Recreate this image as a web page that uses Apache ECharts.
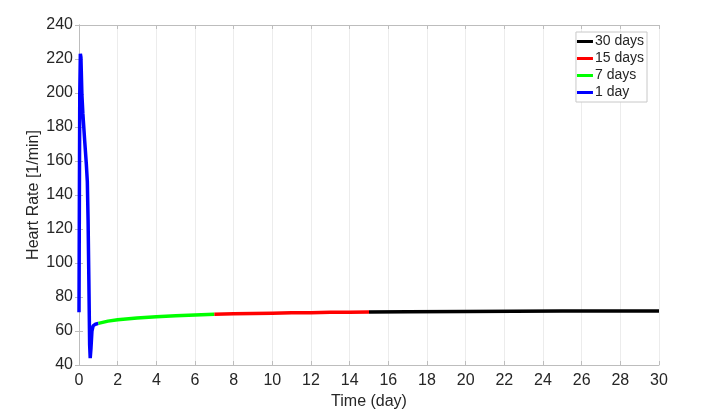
<!DOCTYPE html>
<html>
<head>
<meta charset="utf-8">
<script src="https://cdn.jsdelivr.net/npm/echarts@6/dist/echarts.min.js"></script>
<style>html,body{margin:0;padding:0;background:#fff}#c{width:717px;height:417px}</style>
</head>
<body>
<div id="c"></div>
<script>
const seriesNames = ['30 days', '15 days', '7 days', '1 day'];
const day1 = [[0,71],[0.02,140],[0.04,200],[0.07,223],[0.1,221],[0.15,199],[0.2,188],[0.3,171],[0.38,158],[0.43,148],[0.47,125],[0.51,90],[0.55,52],[0.58,44],[0.62,50],[0.67,60],[0.73,63],[0.85,64],[1.0,64.5]];
const day7 = [[1,64.5],[1.5,65.8],[2,66.6],[3,67.7],[4,68.4],[5,69],[6,69.4],[7,69.8]];
const day15 = [[7,69.8],[8,70.1],[9,70.3],[10,70.5],[11,70.7],[12,70.8],[13,71],[14,71.1],[15,71.2]];
const day30 = [[15,71.2],[17,71.35],[20,71.5],[25,71.7],[30,71.8]];
const xTicks = {min: 0, max: 30, interval: 2};
const yTicks = {min: 40, max: 240, interval: 20};

const font = "'Liberation Sans', Helvetica, Arial, sans-serif";
const txt = '#262626';
const axisCol = '#bdbdbd';
const chart = echarts.init(document.getElementById('c'), null, {renderer: 'canvas'});
function mk(name, data, color) {
  return {name, type: 'line', data, showSymbol: false, symbol: 'none',
    lineStyle: {width: 3.5, color}, itemStyle: {color}, animation: false, z: 3};
}
chart.setOption({
  animation: false,
  grid: {left: 79, right: 58, top: 25, bottom: 52},
  legend: {
    orient: 'vertical', right: 70, top: 32,
    data: seriesNames,
    icon: 'rect', itemWidth: 16, itemHeight: 3, itemGap: 2,
    backgroundColor: '#fff', borderColor: '#c8c8c8', borderWidth: 1,
    padding: [2, 3, 2, 1],
    textStyle: {fontFamily: font, fontSize: 14, color: txt, lineHeight: 15, padding: [0, 0, 0, -3]}
  },
  xAxis: [{
    type: 'value', min: xTicks.min, max: xTicks.max, interval: xTicks.interval,
    name: 'Time (day)', nameLocation: 'middle', nameGap: 29, nameMoveOverlap: false,
    nameTextStyle: {fontFamily: font, fontSize: 16, color: txt},
    axisLine: {lineStyle: {color: axisCol}},
    axisTick: {inside: true, length: 4, lineStyle: {color: axisCol}},
    axisLabel: {fontFamily: font, fontSize: 16, color: txt, margin: 8},
    splitLine: {show: true, lineStyle: {color: '#ececec', width: 1}}
  }, {
    type: 'value', position: 'top', min: xTicks.min, max: xTicks.max, interval: xTicks.interval,
    axisLine: {show: true, lineStyle: {color: axisCol}},
    axisTick: {show: true, inside: true, length: 4, lineStyle: {color: axisCol}},
    axisLabel: {show: false}, splitLine: {show: false}
  }],
  yAxis: [{
    type: 'value', min: yTicks.min, max: yTicks.max, interval: yTicks.interval,
    name: 'Heart Rate [1/min]', nameLocation: 'middle', nameGap: 37, nameMoveOverlap: false,
    nameTextStyle: {fontFamily: font, fontSize: 16, color: txt},
    axisLine: {show: true, lineStyle: {color: axisCol}},
    axisTick: {show: true, inside: true, length: 4, lineStyle: {color: axisCol}},
    axisLabel: {fontFamily: font, fontSize: 16, color: txt, margin: 6},
    splitLine: {show: false}
  }, {
    type: 'value', position: 'right', min: yTicks.min, max: yTicks.max, interval: yTicks.interval,
    axisLine: {show: true, lineStyle: {color: axisCol}},
    axisTick: {show: true, inside: true, length: 4, lineStyle: {color: axisCol}},
    axisLabel: {show: false}, splitLine: {show: false}
  }],
  series: [
    mk('1 day', day1, '#0000ff'),
    mk('7 days', day7, '#00ff00'),
    mk('15 days', day15, '#ff0000'),
    mk('30 days', day30, '#000000')
  ]
});
</script>
</body>
</html>
